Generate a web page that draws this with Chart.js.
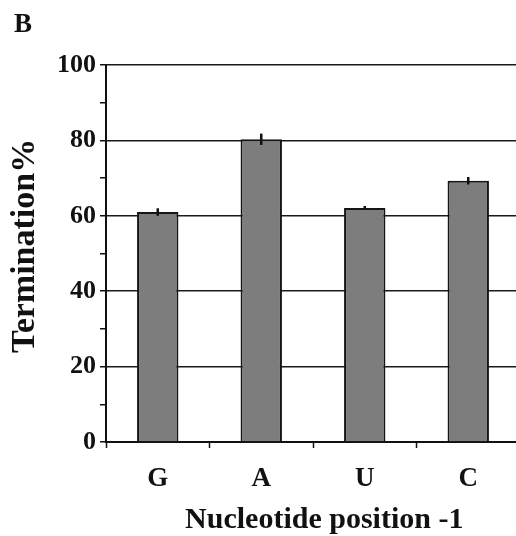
<!DOCTYPE html>
<html>
<head>
<meta charset="utf-8">
<script src="https://cdn.jsdelivr.net/npm/chart.js@4.4.1/dist/chart.umd.min.js"></script>
<style>
  html, body { margin: 0; padding: 0; background: #fff; overflow: hidden; width: 516px; height: 536px; }
  #wrap { position: relative; width: 516px; height: 536px; overflow: hidden; }
  #panel { position: absolute; left: 14px; top: 10px; font: bold 27px "Liberation Serif", serif; line-height: 1; color: #111; }
  canvas { position: absolute; left: 0; top: 0; }
</style>
</head>
<body>
<div id="wrap">
  <canvas id="chart" width="520" height="536"></canvas>
  <div id="panel">B</div>
</div>
<script>
// Data
const nucleotides = ['G', 'A', 'U', 'C'];
const termination = [61, 80.3, 62.1, 69.3];
const errors = [1, 1.5, 0.5, 1];
const yTicks = [0, 20, 40, 60, 80, 100];

const serif = '"Liberation Serif", "Times New Roman", serif';

// Small vertical error bars on top of each bar
const errorBarPlugin = {
    id: 'errorBars',
    afterDatasetsDraw(chart) {
        const ctx = chart.ctx;
        const meta = chart.getDatasetMeta(0);
        const y = chart.scales.y;
        ctx.save();
        ctx.strokeStyle = '#111';
        ctx.lineWidth = 2.5;
        meta.data.forEach((bar, i) => {
            const v = termination[i];
            ctx.beginPath();
            ctx.moveTo(bar.x, y.getPixelForValue(v + errors[i]));
            ctx.lineTo(bar.x, y.getPixelForValue(v - errors[i]));
            ctx.stroke();
        });
        ctx.restore();
    }
};

new Chart(document.getElementById('chart').getContext('2d'), {
    type: 'bar',
    data: {
        labels: nucleotides,
        datasets: [{
            data: termination,
            backgroundColor: '#7d7d7d',
            borderColor: '#151515',
            borderWidth: 2,
            barPercentage: 0.4,
            categoryPercentage: 1
        }]
    },
    options: {
        responsive: false,
        devicePixelRatio: 1,
        animation: false,
        layout: { padding: { top: 65, right: 0, bottom: 0, left: 0 } },
        plugins: {
            legend: { display: false },
            tooltip: { enabled: false }
        },
        scales: {
            x: {
                afterFit: s => { s.height = 94; },
                grid: {
                    offset: true,
                    drawOnChartArea: false,
                    tickLength: 6,
                    tickColor: '#111',
                    tickWidth: 1.5
                },
                border: { color: '#111', width: 2 },
                ticks: {
                    color: '#111',
                    padding: 15,
                    font: { family: serif, size: 27, weight: 'bold' }
                },
                title: {
                    display: true,
                    // leading spaces nudge the centred title to the right, as in the figure
                    text: '\u00a0\u00a0\u00a0Nucleotide position -1',
                    color: '#111',
                    padding: { top: 0, bottom: -2 },
                    font: { family: serif, size: 30, weight: 'bold' }
                }
            },
            y: {
                min: 0,
                max: 100,
                afterFit: s => { s.width = 106; },
                ticks: {
                    stepSize: 10,
                    color: '#111',
                    padding: 4,
                    font: { family: serif, size: 26, weight: 'bold' },
                    callback: v => (yTicks.includes(v) ? String(v) : '')
                },
                grid: {
                    tickLength: 6,
                    tickColor: '#111',
                    tickWidth: 1.5,
                    lineWidth: 1.5,
                    color: ctx => (ctx.tick && yTicks.includes(ctx.tick.value) ? '#1a1a1a' : 'rgba(0,0,0,0)')
                },
                border: { color: '#111', width: 2 },
                title: {
                    display: true,
                    text: '\u00a0\u2009Termination%',
                    color: '#111',
                    padding: { top: 5, bottom: 0 },
                    font: { family: serif, size: 34, weight: 'bold' }
                }
            }
        }
    },
    plugins: [errorBarPlugin]
});
</script>
</body>
</html>
